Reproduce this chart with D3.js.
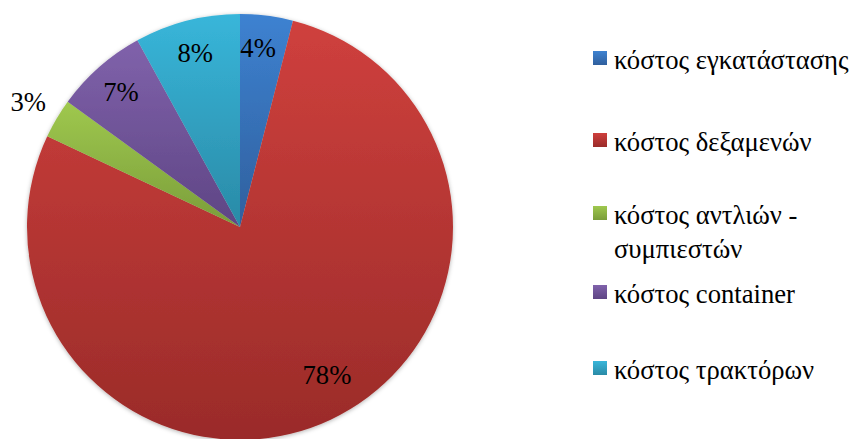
<!DOCTYPE html>
<html>
<head>
<meta charset="utf-8">
<script src="https://cdn.jsdelivr.net/npm/d3@7"></script>
</head>
<body style="margin:0">
<script>
// Cost breakdown (percent of total)
const categories = [
  "κόστος εγκατάστασης",
  "κόστος δεξαμενών",
  "κόστος αντλιών - συμπιεστών",
  "κόστος container",
  "κόστος τρακτόρων"
];
const values = [4, 78, 3, 7, 8];
// Legend lines (third entry wraps onto two lines)
const legendLines = [
  ["κόστος εγκατάστασης"],
  ["κόστος δεξαμενών"],
  ["κόστος αντλιών -", "συμπιεστών"],
  ["κόστος container"],
  ["κόστος τρακτόρων"]
];
// Gradient stops per slice: top colour, bottom colour
const topColors = ["#3d82d1", "#cf403d", "#9fc84e", "#8062ab", "#38b6da"];
const bottomColors = ["#305f9d", "#9a2b29", "#7a9d3a", "#5e4584", "#2a8aa6"];

const W = 864, H = 439;
const cx = 240, cy = 227, R = 213;

// Text is set at a 24px base size and scaled up to ~26.7px
const baseSize = 24, textScale = 26.67 / 24;

const svg = d3.select("body").append("svg")
  .attr("width", W).attr("height", H);

function addText(x, y, str, anchor) {
  const g = svg.append("g")
    .attr("transform", `translate(${x},${y}) scale(${textScale})`);
  return g.append("text")
    .attr("x", 0).attr("y", 0)
    .attr("text-anchor", anchor || "start")
    .style("font-family", '"Liberation Serif"')
    .style("font-size", baseSize + "px")
    .attr("fill", "#000")
    .text(str);
}

const defs = svg.append("defs");
categories.forEach((c, i) => {
  const g = defs.append("linearGradient")
    .attr("id", "grad" + i)
    .attr("x1", 0).attr("y1", 0).attr("x2", 0).attr("y2", 1);
  g.append("stop").attr("offset", "0%").attr("stop-color", topColors[i]);
  g.append("stop").attr("offset", "100%").attr("stop-color", bottomColors[i]);
});
const shadow = defs.append("filter").attr("id", "pieShadow")
  .attr("x", "-10%").attr("y", "-10%").attr("width", "120%").attr("height", "120%");
shadow.append("feDropShadow")
  .attr("dx", 0).attr("dy", 1).attr("stdDeviation", 2)
  .attr("flood-color", "#000").attr("flood-opacity", 0.3);

const pie = d3.pie().sort(null).value(d => d);
const arcs = pie(values);
const arc = d3.arc().innerRadius(0).outerRadius(R);

svg.append("g").attr("transform", `translate(${cx},${cy})`)
  .attr("filter", "url(#pieShadow)")
  .selectAll("path").data(arcs).join("path")
  .attr("d", arc)
  .attr("fill", (d, i) => `url(#grad${i})`);

// Data labels: inside end for most slices, outside for the thinnest one
arcs.forEach(d => {
  let a = (d.startAngle + d.endAngle) / 2;
  let r = 180;
  if (d.endAngle - d.startAngle < 0.2) r = 246;
  if (d.endAngle - d.startAngle > Math.PI) { a -= 0.09; r = 172; }
  if (d.index === 0) { a -= 0.025; }
  addText(cx + r * Math.sin(a), cy - r * Math.cos(a) + 9, d.data + "%", "middle");
});

// Legend
const legendBaselines = [69, 151, 224, 303, 379];
legendLines.forEach((lines, i) => {
  const y = legendBaselines[i];
  svg.append("rect")
    .attr("x", 593).attr("y", y - 18)
    .attr("width", 14).attr("height", 14)
    .attr("fill", `url(#grad${i})`);
  lines.forEach((ln, j) => addText(614, y + j * 34, ln));
});
</script>
</body>
</html>
